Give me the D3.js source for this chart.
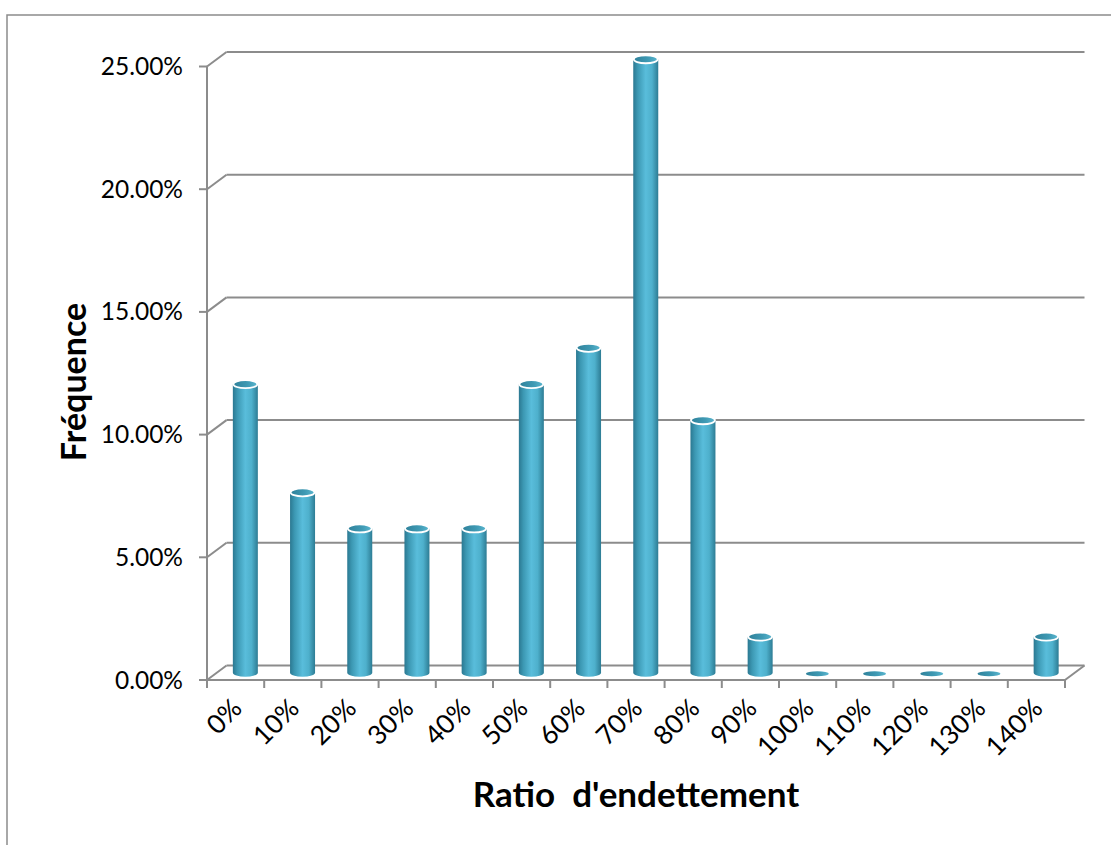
<!DOCTYPE html>
<html>
<head>
<meta charset="utf-8">
<script src="https://cdn.jsdelivr.net/npm/d3@7"></script>
<style>
  body { margin: 0; background: #fff; }
  text { font-family: Lato, "Open Sans", sans-serif; fill: #000; }
</style>
</head>
<body>
<div id="chart"></div>
<script>
// data (share of the 68 cases in each ratio bucket)
const categories = ["0%", "10%", "20%", "30%", "40%", "50%", "60%", "70%", "80%", "90%", "100%", "110%", "120%", "130%", "140%"];
const frequencies = [11.76, 7.35, 5.88, 5.88, 5.88, 11.76, 13.24, 25.00, 10.29, 1.47, 0, 0, 0, 0, 1.47];
const yTicks = [0, 5, 10, 15, 20, 25];

const width = 1111;
const height = 845;

// depth of the 3d box
const dx = 19.5;
const dy = -14.5;

const svg = d3.select("#chart")
    .append("svg")
    .attr("width", width)
    .attr("height", height);

const x = d3.scaleBand()
    .domain(categories)
    .range([207, 1065]);

const y = d3.scaleLinear()
    .domain([0, 25])
    .range([680, 66.5]);

const defs = svg.append("defs");

const bodyGrad = defs.append("linearGradient")
    .attr("id", "cyl")
    .attr("x1", "0%").attr("x2", "100%").attr("y1", "0%").attr("y2", "0%");
[[0, "#2b7891"], [0.18, "#3c98b3"], [0.5, "#59bddb"], [0.75, "#4eb0cc"], [1, "#2d7c94"]]
    .forEach(s => bodyGrad.append("stop").attr("offset", s[0]).attr("stop-color", s[1]));

const capGrad = defs.append("linearGradient")
    .attr("id", "cap")
    .attr("x1", "0%").attr("x2", "100%").attr("y1", "0%").attr("y2", "0%");
[[0, "#2f819a"], [0.6, "#3f9ab4"], [1, "#5ab6cf"]]
    .forEach(s => capGrad.append("stop").attr("offset", s[0]).attr("stop-color", s[1]));

// outer frame (only top and left show in the picture)
svg.append("rect")
    .attr("x", 7).attr("y", 15)
    .attr("width", 1200).attr("height", 900)
    .attr("fill", "none")
    .attr("stroke", "#8c8c8c")
    .attr("stroke-width", 1.5);

const grid = svg.append("g")
    .attr("stroke", "#8c8c8c")
    .attr("stroke-width", 2)
    .attr("fill", "none");

const x0 = x.range()[0];
const x1 = x.range()[1];

// back wall gridlines + slanted joins to the front axis
yTicks.forEach(t => {
    grid.append("line")
        .attr("x1", x0 + dx).attr("x2", x1 + dx)
        .attr("y1", y(t) + dy).attr("y2", y(t) + dy);
    grid.append("line")
        .attr("x1", x0).attr("x2", x0 + dx)
        .attr("y1", y(t)).attr("y2", y(t) + dy);
    grid.append("line")
        .attr("x1", x0 - 8).attr("x2", x0)
        .attr("y1", y(t)).attr("y2", y(t));
});

// floor front edge and right side
grid.append("line")
    .attr("x1", x0).attr("x2", x1)
    .attr("y1", y(0)).attr("y2", y(0));
grid.append("line")
    .attr("x1", x1).attr("x2", x1 + dx)
    .attr("y1", y(0)).attr("y2", y(0) + dy);
// front vertical axis
grid.append("line")
    .attr("x1", x0).attr("x2", x0)
    .attr("y1", y(25)).attr("y2", y(0));

// category ticks
categories.concat(["end"]).forEach((c, i) => {
    const tx = x0 + i * x.bandwidth();
    grid.append("line")
        .attr("x1", tx).attr("x2", tx)
        .attr("y1", y(0)).attr("y2", y(0) + 8);
});

// y tick labels
svg.append("g")
    .selectAll("text")
    .data(yTicks)
    .join("text")
    .attr("x", 183)
    .attr("y", d => y(d))
    .attr("dy", "0.35em")
    .attr("text-anchor", "end")
    .attr("font-size", 24.5)
    .text(d => d3.format(".2f")(d) + "%");

// cylinders
const r = 12.5;
const ry = 4;
const bars = svg.append("g");

categories.forEach((c, i) => {
    const v = frequencies[i];
    const cx = x(c) + x.bandwidth() / 2 + dx / 2;
    const yb = y(0) + dy / 2;
    const yt = y(v) + dy / 2;
    if (v > 0) {
        bars.append("path")
            .attr("d", `M${cx - r},${yt} L${cx - r},${yb} A${r},${ry} 0 0 0 ${cx + r},${yb} L${cx + r},${yt} Z`)
            .attr("fill", "url(#cyl)");
        bars.append("ellipse")
            .attr("cx", cx).attr("cy", yt)
            .attr("rx", r - 0.5).attr("ry", ry)
            .attr("fill", "url(#cap)")
            .attr("stroke", "#fff")
            .attr("stroke-width", 1.8);
    } else {
        bars.append("ellipse")
            .attr("cx", cx).attr("cy", yb + 1)
            .attr("rx", r - 1).attr("ry", 2.5)
            .attr("fill", "url(#cap)");
    }
});

// x tick labels, turned 45 degrees
svg.append("g")
    .selectAll("text")
    .data(categories)
    .join("text")
    .attr("text-anchor", "end")
    .attr("font-size", 26.5)
    .attr("transform", d => `translate(${x(d) + x.bandwidth() / 2 + 8},${y(0) + 30}) rotate(-45)`)
    .text(d => d);

// axis titles
svg.append("text")
    .attr("transform", "translate(86,382) rotate(-90)")
    .attr("text-anchor", "middle")
    .attr("font-size", 34)
    .attr("font-weight", "bold")
    .text("Fréquence");

svg.append("text")
    .attr("x", 636)
    .attr("y", 807)
    .attr("text-anchor", "middle")
    .attr("font-size", 35)
    .attr("font-weight", "bold")
    .style("white-space", "pre")
    .text("Ratio  d'endettement");
</script>
</body>
</html>
